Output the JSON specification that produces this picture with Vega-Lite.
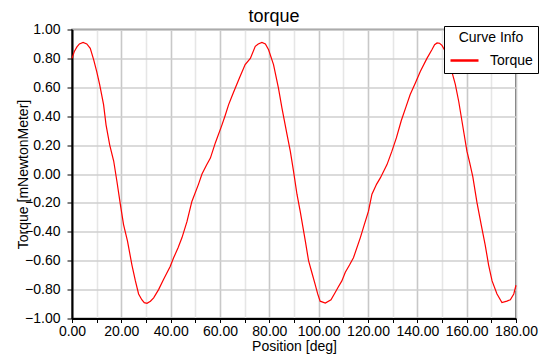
{
  "$schema": "https://vega.github.io/schema/vega-lite/v6.json",
  "autosize": {"type": "none"},
  "width": 444,
  "height": 289,
  "padding": {"left": 72, "top": 29.5, "right": 23, "bottom": 35.5},
  "background": "white",
  "title": {"text": "torque", "fontSize": 18, "fontWeight": "normal", "color": "#000000", "font": "Liberation Sans", "anchor": "middle", "dx": -20, "dy": 11, "offset": 8},
  "config": {
    "font": "Liberation Sans",
    "view": {"stroke": "#404040", "strokeWidth": 1.5},
    "axis": {"labelFont": "Liberation Sans", "titleFont": "Liberation Sans", "labelColor": "#000000", "titleColor": "#000000", "labelFontSize": 14, "titleFontSize": 14, "titleFontWeight": "normal", "domainColor": "#000000", "domainWidth": 2, "tickColor": "#000000"}
  },
  "data": {"values": [
    {"pos": 0, "torque": 0.80}, {"pos": 1, "torque": 0.85}, {"pos": 2, "torque": 0.88}, {"pos": 3, "torque": 0.90},
    {"pos": 4.5, "torque": 0.91}, {"pos": 6, "torque": 0.90}, {"pos": 7.4, "torque": 0.87}, {"pos": 8.8, "torque": 0.79},
    {"pos": 10, "torque": 0.71}, {"pos": 11.2, "torque": 0.62}, {"pos": 12.8, "torque": 0.48}, {"pos": 13.8, "torque": 0.34},
    {"pos": 15.3, "torque": 0.20}, {"pos": 16.9, "torque": 0.09}, {"pos": 18.2, "torque": -0.05}, {"pos": 19.6, "torque": -0.21},
    {"pos": 20.9, "torque": -0.35}, {"pos": 22.5, "torque": -0.465}, {"pos": 24.3, "torque": -0.63}, {"pos": 25.7, "torque": -0.74},
    {"pos": 27, "torque": -0.83}, {"pos": 28.3, "torque": -0.87}, {"pos": 29.3, "torque": -0.89}, {"pos": 30.4, "torque": -0.895},
    {"pos": 31.8, "torque": -0.88}, {"pos": 33.1, "torque": -0.857}, {"pos": 35.1, "torque": -0.80}, {"pos": 37.1, "torque": -0.73},
    {"pos": 39.8, "torque": -0.64}, {"pos": 41.2, "torque": -0.58}, {"pos": 43, "torque": -0.51}, {"pos": 44.6, "torque": -0.44},
    {"pos": 46.6, "torque": -0.33}, {"pos": 48.6, "torque": -0.19}, {"pos": 51.3, "torque": -0.07}, {"pos": 52.7, "torque": 0.0},
    {"pos": 54.5, "torque": 0.06}, {"pos": 56.1, "torque": 0.11}, {"pos": 58.1, "torque": 0.215}, {"pos": 60.8, "torque": 0.34},
    {"pos": 62, "torque": 0.40}, {"pos": 63.5, "torque": 0.48}, {"pos": 65, "torque": 0.545}, {"pos": 66.2, "torque": 0.595},
    {"pos": 68, "torque": 0.67}, {"pos": 70.2, "torque": 0.757}, {"pos": 72.3, "torque": 0.80}, {"pos": 74.3, "torque": 0.884},
    {"pos": 75.5, "torque": 0.90}, {"pos": 77, "torque": 0.91}, {"pos": 78.4, "torque": 0.90}, {"pos": 79.7, "torque": 0.86},
    {"pos": 81.7, "torque": 0.757}, {"pos": 83.7, "torque": 0.595}, {"pos": 85.1, "torque": 0.457}, {"pos": 87.2, "torque": 0.27},
    {"pos": 88.5, "torque": 0.158}, {"pos": 89.8, "torque": 0.02}, {"pos": 91.2, "torque": -0.14}, {"pos": 92.5, "torque": -0.257},
    {"pos": 94.6, "torque": -0.465}, {"pos": 95.9, "torque": -0.60}, {"pos": 97.2, "torque": -0.68}, {"pos": 98.6, "torque": -0.765},
    {"pos": 99.6, "torque": -0.83}, {"pos": 100.6, "torque": -0.88}, {"pos": 102.7, "torque": -0.893}, {"pos": 105, "torque": -0.87},
    {"pos": 106.7, "torque": -0.82}, {"pos": 108, "torque": -0.78}, {"pos": 109.4, "torque": -0.74}, {"pos": 110.8, "torque": -0.68},
    {"pos": 112.5, "torque": -0.63}, {"pos": 114.1, "torque": -0.58}, {"pos": 116.9, "torque": -0.44}, {"pos": 118.5, "torque": -0.35},
    {"pos": 120.2, "torque": -0.257}, {"pos": 121.6, "torque": -0.14}, {"pos": 123.5, "torque": -0.07}, {"pos": 125, "torque": -0.027},
    {"pos": 127.7, "torque": 0.065}, {"pos": 129.7, "torque": 0.158}, {"pos": 131.5, "torque": 0.25}, {"pos": 133.5, "torque": 0.37},
    {"pos": 135.5, "torque": 0.47}, {"pos": 137.1, "torque": 0.55}, {"pos": 139.2, "torque": 0.63}, {"pos": 141.2, "torque": 0.71},
    {"pos": 143.9, "torque": 0.80}, {"pos": 145.9, "torque": 0.86}, {"pos": 147, "torque": 0.895}, {"pos": 148, "torque": 0.907},
    {"pos": 149, "torque": 0.905}, {"pos": 150, "torque": 0.89}, {"pos": 151.3, "torque": 0.85}, {"pos": 152.7, "torque": 0.79},
    {"pos": 155.4, "torque": 0.62}, {"pos": 156.8, "torque": 0.50}, {"pos": 158.1, "torque": 0.365}, {"pos": 160.1, "torque": 0.158},
    {"pos": 161.2, "torque": 0.08}, {"pos": 162.5, "torque": -0.02}, {"pos": 164.2, "torque": -0.20}, {"pos": 166, "torque": -0.36},
    {"pos": 167.5, "torque": -0.49}, {"pos": 168.9, "torque": -0.63}, {"pos": 170.3, "torque": -0.74}, {"pos": 172.3, "torque": -0.83},
    {"pos": 174.3, "torque": -0.89}, {"pos": 176.3, "torque": -0.88}, {"pos": 177.7, "torque": -0.87}, {"pos": 179.1, "torque": -0.83},
    {"pos": 180, "torque": -0.77}
  ]},
  "mark": {"type": "line", "strokeWidth": 1.2, "interpolate": "linear"},
  "encoding": {
    "x": {
      "field": "pos", "type": "quantitative",
      "scale": {"domain": [0, 180], "nice": false, "zero": false},
      "axis": {
        "title": "Position [deg]",
        "values": [0, 10, 20, 30, 40, 50, 60, 70, 80, 90, 100, 110, 120, 130, 140, 150, 160, 170, 180],
        "labelExpr": "datum.value % 20 === 0 ? format(datum.value, '.2f') : ''",
        "grid": true,
        "gridColor": {"condition": {"test": "datum.value % 20 === 0", "value": "#c8c8c8"}, "value": "#e6e6e6"},
        "gridWidth": 1.6,
        "tickSize": 4,
        "labelPadding": 2,
        "labelFlush": false,
        "labelOverlap": false,
        "titlePadding": 1
      }
    },
    "y": {
      "field": "torque", "type": "quantitative",
      "scale": {"domain": [-1, 1], "nice": false, "zero": false},
      "axis": {
        "title": "Torque [mNewtonMeter]",
        "values": [-1, -0.8, -0.6, -0.4, -0.2, 0, 0.2, 0.4, 0.6, 0.8, 1],
        "labelExpr": "datum.value === 0 ? '0.00' : format(datum.value, '.2f')",
        "grid": true,
        "gridColor": "#cfcfcf",
        "gridWidth": 1.6,
        "tickSize": 5,
        "labelPadding": 7,
        "labelFlush": false,
        "labelOverlap": false,
        "titleX": -45,
        "titleBaseline": "alphabetic"
      }
    },
    "color": {
      "datum": "Torque",
      "type": "nominal",
      "scale": {"range": ["#ff0000"]},
      "legend": {
        "title": "Curve Info",
        "orient": "none",
        "legendX": 372,
        "legendY": -3.5,
        "direction": "vertical",
        "fillColor": "white",
        "strokeColor": "#000000",
        "padding": 5,
        "titleAnchor": "middle",
        "titleFontSize": 14,
        "titleFontWeight": "normal",
        "titleColor": "#000000",
        "titlePadding": 0,
        "labelFontSize": 14,
        "labelColor": "#000000",
        "labelOffset": 10,
        "symbolType": "stroke",
        "symbolSize": 784,
        "symbolStrokeWidth": 2.5,
        "symbolStrokeColor": "#ff0000"
      }
    }
  }
}
